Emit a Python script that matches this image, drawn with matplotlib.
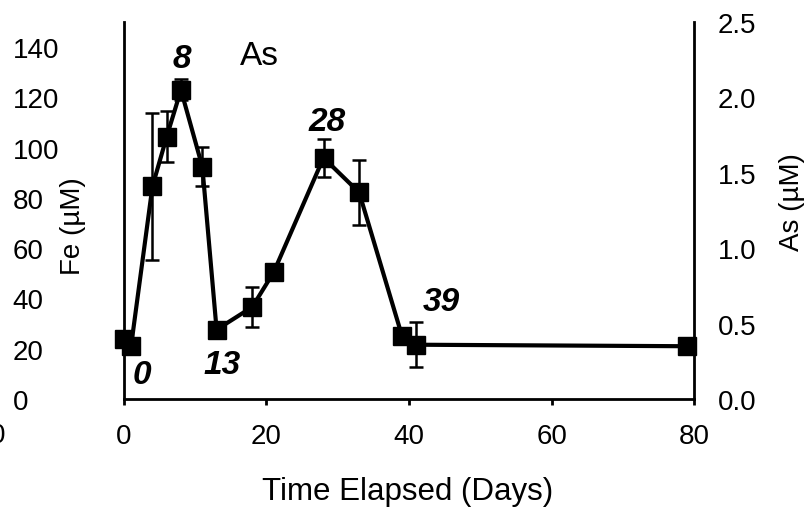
import matplotlib
matplotlib.use("Agg")
import matplotlib.pyplot as plt

# As concentration over time (right axis), with error bars
days = [0, 1, 4, 6, 8, 11, 13, 18, 21, 28, 33, 39, 41, 79]
as_um = [0.40, 0.35, 1.41, 1.74, 2.05, 1.54, 0.46, 0.61, 0.84, 1.60, 1.37, 0.42, 0.36, 0.35]
as_err = [0, 0, 0.49, 0.17, 0.07, 0.13, 0, 0.13, 0, 0.125, 0.215, 0, 0.15, 0]

# labels placed next to selected points
day_labels = ["0", "8", "13", "28", "39"]
label_pos = [(2.5, 0.16), (8.1, 2.26), (13.8, 0.23), (28.5, 1.84), (44.6, 0.65)]

fe_ticks = [0, 20, 40, 60, 80, 100, 120, 140]
as_ticks = [0.0, 0.5, 1.0, 1.5, 2.0, 2.5]
x_ticks = [0, 20, 40, 60, 80]

plt.rcParams['font.family'] = ['Liberation Sans', 'DejaVu Sans']
fs = 20

fig = plt.figure(figsize=(8.1, 5.1), dpi=100)
ax = fig.add_axes([0.153, 0.2157, 0.704, 0.739])
ax2 = ax.twinx()

ax.set_xlim(0, 80)
ax.set_ylim(0, 150)
ax2.set_ylim(0, 2.5)

for a in (ax, ax2):
    a.spines['top'].set_visible(False)
    for s in a.spines.values():
        s.set_linewidth(2)
ax.spines['right'].set_visible(False)
ax2.spines['left'].set_visible(False)
ax2.spines['bottom'].set_visible(False)

ax.set_xticks(x_ticks)
ax.set_xticklabels([str(v) for v in x_ticks], fontsize=fs)
ax.tick_params(axis='x', direction='out', length=4, width=2, pad=13)

ax.set_yticks(fe_ticks)
ax.set_yticklabels([str(v) for v in fe_ticks], fontsize=fs, ha='left')
ax.tick_params(axis='y', length=0, pad=80)

ax2.set_yticks(as_ticks)
ax2.set_yticklabels([f"{v:.1f}" for v in as_ticks], fontsize=fs)
ax2.tick_params(axis='y', direction='out', length=0, pad=17)
ax2.set_yticks([0.0, 1.0, 2.0], minor=True)
ax2.tick_params(axis='y', which='minor', direction='out', length=5, width=2)

fig.text(73 / 810, 1 - 226 / 510, "Fe (\u00b5M)", fontsize=fs, rotation=90,
         ha='center', va='center')
fig.text(792 / 810, 1 - 202 / 510, "As (\u00b5M)", fontsize=fs, rotation=90,
         ha='center', va='center')
fig.text(408 / 810, 1 - 492 / 510, "Time Elapsed (Days)", fontsize=22.5,
         ha='center', va='center')

ax2.errorbar(days, as_um, yerr=as_err, color='black', lw=3, marker='s', ms=12.5,
             elinewidth=1.8, capsize=5, capthick=1.8, clip_on=False, zorder=5)

for txt, (px, py) in zip(day_labels, label_pos):
    ax2.text(px, py, txt, fontsize=24, fontweight='bold', fontstyle='italic',
             ha='center', va='center')
ax2.text(19.0, 2.28, "As", fontsize=24, ha='center', va='center')

# clipped leftover tick label at the left edge
fig.text(0.007, 1 - 436 / 510, "0", fontsize=fs, ha='right', va='center')

fig.savefig("out.png", dpi=100)
